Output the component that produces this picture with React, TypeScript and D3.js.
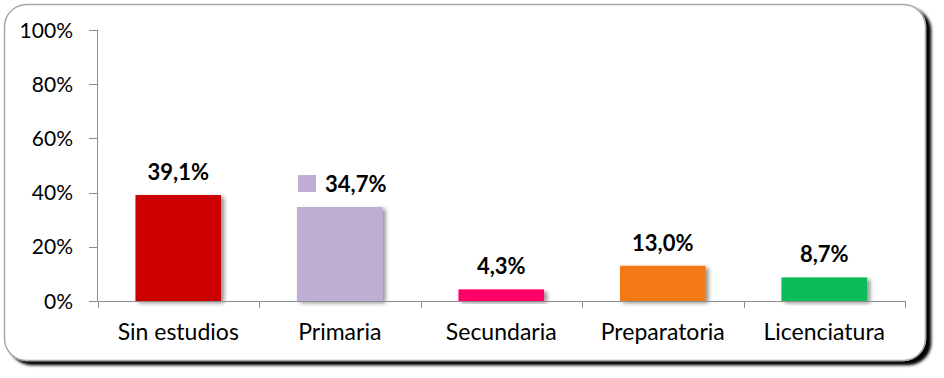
import React from "react";
import * as d3 from "d3";

const categories = ["Sin estudios", "Primaria", "Secundaria", "Preparatoria", "Licenciatura"];
const values = [39.1, 34.7, 4.3, 13.0, 8.7];
const colors = ["#cc0605", "#bfaed4", "#ff0066", "#f27913", "#0bbb58"];
const yTicks = [0, 20, 40, 60, 80, 100];

const W = 944;
const H = 378;
const FONT = "Lato, 'Open Sans', sans-serif";

export default function App() {
  const left = 97.5;
  const right = 905;
  const top = 30;
  const bottom = 301;
  const x = d3.scaleBand<string>().domain(categories).range([left, right]).paddingInner(0.47).paddingOuter(0.235);
  const xb = d3.scaleBand<string>().domain(categories).range([left, right]);
  const y = d3.scaleLinear().domain([0, 100]).range([bottom, top]);
  const fmt = (v: number) => v.toFixed(1).replace(".", ",") + "%";

  return (
    <svg width={W} height={H} style={{ display: "block", position: "absolute", left: 0, top: 0 }}>
      <defs>
        <filter id="frameShadow" x="-5%" y="-5%" width="115%" height="120%">
          <feGaussianBlur in="SourceAlpha" stdDeviation="1.5" />
          <feOffset dx="5" dy="4" result="b" />
          <feComponentTransfer><feFuncA type="linear" slope="1" /></feComponentTransfer>
          <feMerge>
            <feMergeNode />
            <feMergeNode in="SourceGraphic" />
          </feMerge>
        </filter>
        <filter id="barShadow" x="-10%" y="-10%" width="130%" height="130%">
          <feGaussianBlur in="SourceAlpha" stdDeviation="2" />
          <feOffset dx="3" dy="2" />
          <feComponentTransfer><feFuncA type="linear" slope="0.45" /></feComponentTransfer>
          <feMerge>
            <feMergeNode />
            <feMergeNode in="SourceGraphic" />
          </feMerge>
        </filter>
      </defs>
      <rect x={0} y={0} width={W} height={H} fill="#ffffff" />
      <rect x={4.5} y={4.5} width={921} height={356} rx={22} ry={22} fill="#ffffff" stroke="#a6a6a6" strokeWidth={1.5} filter="url(#frameShadow)" />

      {/* y axis */}
      <line x1={left} x2={left} y1={top} y2={bottom} stroke="#8c8c8c" strokeWidth={1} />
      {yTicks.map((t) => (
        <g key={t}>
          <line x1={89} x2={left} y1={Math.round(y(t)) + 0.5} y2={Math.round(y(t)) + 0.5} stroke="#8c8c8c" />
          <text x={73} y={y(t) + 7.5} textAnchor="end" fontFamily={FONT} fontSize={21} fill="#000">
            {t}%
          </text>
        </g>
      ))}

      {/* bars */}
      {categories.map((c, i) => (
        <rect key={c} x={x(c)!} y={y(values[i])} width={x.bandwidth()} height={bottom - y(values[i])} fill={colors[i]} filter="url(#barShadow)" />
      ))}

      {/* x axis */}
      <line x1={left} x2={right} y1={bottom + 0.5} y2={bottom + 0.5} stroke="#8c8c8c" />
      {[...categories.map((c) => xb(c)!), right].map((p, i) => (
        <line key={i} x1={Math.round(p) + 0.5} x2={Math.round(p) + 0.5} y1={bottom} y2={bottom + 7} stroke="#8c8c8c" />
      ))}
      {categories.map((c) => (
        <text key={c} x={xb(c)! + xb.bandwidth() / 2} y={340} textAnchor="middle" fontFamily={FONT} fontSize={23} fill="#000">
          {c}
        </text>
      ))}

      {/* data labels */}
      {categories.map((c, i) => {
        const cx = x(c)! + x.bandwidth() / 2;
        const ly = y(values[i]) - 15;
        if (i === 1) {
          return (
            <g key={c}>
              <rect x={298} y={ly - 17} width={18} height={17} fill={colors[i]} />
              <text x={325} y={ly} fontFamily={FONT} fontSize={22} fontWeight="bold" fill="#000">
                {fmt(values[i])}
              </text>
            </g>
          );
        }
        return (
          <text key={c} x={cx} y={ly} textAnchor="middle" fontFamily={FONT} fontSize={22} fontWeight="bold" fill="#000">
            {fmt(values[i])}
          </text>
        );
      })}
    </svg>
  );
}
